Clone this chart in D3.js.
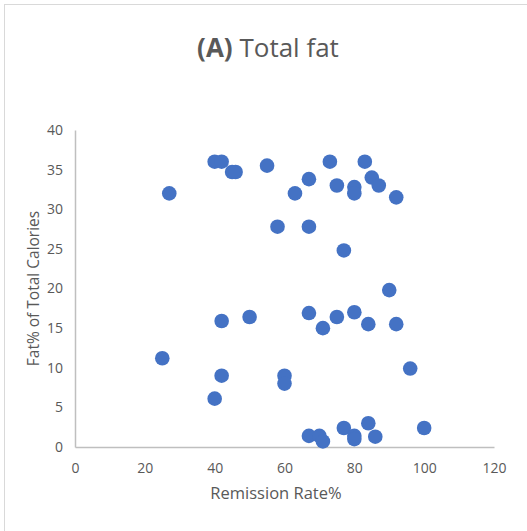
<!DOCTYPE html>
<html>
<head>
<meta charset="utf-8">
<script src="https://cdn.jsdelivr.net/npm/d3@7"></script>
<style>
  body { margin: 0; background: #fff; }
  text { font-family: "Open Sans", "Noto Sans", sans-serif; fill: #595959; }
</style>
</head>
<body>
<div id="chart"></div>
<script>
// remission rate (%) vs fat% of total calories
var remission = [27, 40, 42, 45, 46, 55, 67, 63, 73, 83, 75, 80, 80, 85, 87, 92,
  58, 67, 77, 90,
  42, 50, 67, 71, 75, 80, 84, 92,
  25, 42, 40, 60, 60, 96,
  67, 70, 71, 77, 80, 80, 84, 86, 100];
var fatPct = [32, 36, 36, 34.7, 34.7, 35.5, 33.8, 32, 36, 36, 33, 32.8, 32, 34, 33, 31.5,
  27.8, 27.8, 24.8, 19.8,
  15.9, 16.4, 16.9, 15, 16.4, 17, 15.5, 15.5,
  11.2, 9, 6.1, 9, 8, 9.9,
  1.4, 1.4, 0.7, 2.4, 1.4, 1.0, 3, 1.3, 2.4];
var xTicks = [0, 20, 40, 60, 80, 100, 120];
var yTicks = [0, 5, 10, 15, 20, 25, 30, 35, 40];

var width = 527, height = 531;
var margin = {top: 130, right: 33, bottom: 84, left: 75};

var svg = d3.select('#chart').append('svg')
  .attr('width', width)
  .attr('height', height);

// chart border
svg.append('rect')
  .attr('x', 4.5).attr('y', 4.5)
  .attr('width', 560).attr('height', 560)
  .attr('fill', 'none')
  .attr('stroke', '#d9d9d9');

svg.append('text')
  .attr('x', 268).attr('y', 57)
  .style('font-size', '26px')
  .style('text-anchor', 'middle')
  .call(t => {
    t.append('tspan').style('font-weight', 'bold').text('(A)');
    t.append('tspan').text(' Total fat');
  });

var x = d3.scaleLinear().domain([0, 120]).range([margin.left, width - margin.right]);
var y = d3.scaleLinear().domain([0, 40]).range([height - margin.bottom, margin.top]);

var xAxis = svg.append('g')
  .attr('transform', `translate(0,${y(0)})`)
  .call(d3.axisBottom(x).tickValues(xTicks).tickSize(0).tickPadding(16));
xAxis.select('.domain').attr('stroke', '#bfbfbf').attr('stroke-width', 1.5);
xAxis.selectAll('text').style('font-size', '14px').attr('fill', '#595959');

var yAxis = svg.append('g')
  .attr('transform', `translate(${x(0)},0)`)
  .call(d3.axisLeft(y).tickValues(yTicks).tickSize(0).tickPadding(12));
yAxis.select('.domain').attr('stroke', '#bfbfbf').attr('stroke-width', 1.5);
yAxis.selectAll('text').style('font-size', '14px').attr('fill', '#595959');

svg.selectAll('.dot')
  .data(remission.map((r, i) => [r, fatPct[i]]))
  .enter()
  .append('circle')
  .classed('dot', true)
  .attr('cx', d => x(d[0]))
  .attr('cy', d => y(d[1]))
  .attr('r', 7.3)
  .attr('fill', '#4472c4');

svg.append('text')
  .attr('x', 276).attr('y', 499)
  .style('font-size', '16.5px')
  .style('text-anchor', 'middle')
  .text('Remission Rate%');

svg.append('text')
  .attr('transform', `translate(39,${(y(0) + y(40)) / 2}) rotate(-90)`)
  .style('font-size', '15.5px')
  .style('text-anchor', 'middle')
  .text('Fat% of Total Calories');
</script>
</body>
</html>
